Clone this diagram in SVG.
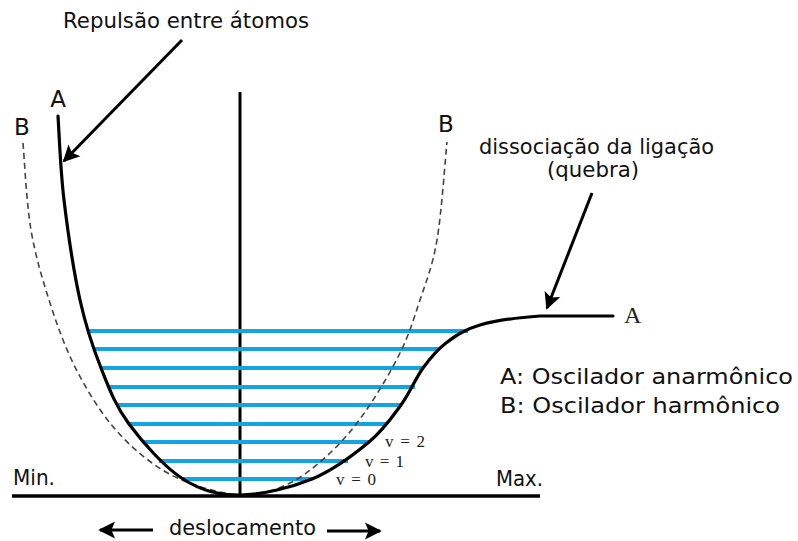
<svg xmlns="http://www.w3.org/2000/svg" width="798" height="541" viewBox="0 0 798 541">
<defs>
<marker id="ah" markerWidth="6" markerHeight="6" refX="5" refY="3" orient="auto" markerUnits="strokeWidth">
<path d="M0,0.2 L5.6,3 L0,5.8 L1.2,3 Z" fill="#000"/>
</marker>
<style>
.lbl{font-family:"DejaVu Sans",Verdana,sans-serif;font-size:21px;fill:#111}
.big{font-size:23px}
.ser{font-family:"Liberation Serif","Times New Roman",serif;fill:#222}
.blue{stroke:#14a3e3;stroke-width:4;fill:none}
.blk{stroke:#000;fill:none}
.arr{stroke:#000;stroke-width:3;fill:none;marker-end:url(#ah)}
</style>
</defs>
<rect width="798" height="541" fill="#fff"/>

<g id="axes">
<line class="blk" x1="12" y1="496" x2="540" y2="496" stroke-width="3.5"/>
<line class="blk" x1="240" y1="92" x2="240" y2="496" stroke-width="3"/>
</g>

<g id="levels">
<line class="blue" x1="88" y1="331" x2="468" y2="331"/>
<line class="blue" x1="93" y1="349" x2="439" y2="349"/>
<line class="blue" x1="101" y1="368" x2="423" y2="368"/>
<line class="blue" x1="109" y1="387" x2="415" y2="387"/>
<line class="blue" x1="118" y1="405" x2="401" y2="405"/>
<line class="blue" x1="129" y1="424" x2="387" y2="424"/>
<line class="blue" x1="143" y1="442" x2="369" y2="442"/>
<line class="blue" x1="159" y1="461" x2="348" y2="461"/>
<line class="blue" x1="183" y1="479" x2="312" y2="479"/>
</g>

<g id="harmonic">
<path d="M23,143 C24.3,157.5 26.5,203.3 31,230 C35.5,256.7 42.7,280.2 50,303 C57.3,325.8 65,347 75,367 C85,387 97.2,407 110,423 C122.8,439 137.8,452.7 152,463 C166.2,473.3 179.5,479.7 195,485 C210.5,490.3 229,495 245,495 C260.8,494.7 275.8,490 290,483 C304.2,476 317.5,464.8 330,453 C342.5,441.2 353.3,428.7 365,412 C376.7,395.3 390.8,371.7 400,353 C409.2,334.3 413.8,318.8 420,300 C426.2,281.2 432.5,266.3 437,240 C441.5,213.7 445.3,158.3 447,142" stroke="#444" stroke-width="1.6" fill="none" stroke-dasharray="6,4"/>
</g>

<g id="anharmonic">
<path class="blk" stroke-width="3.2" stroke-linecap="round" d="M58,116 C59,130 60.3,169.3 64,200 C67.7,230.7 73.8,272 80,300 C86.2,328 92.8,347.3 101,368 C109.2,388.7 115.3,405.5 129,424 C142.7,442.5 164.5,467.2 183,479 C201.5,490.8 218.5,495 240,495 C261.5,495 290.5,487.8 312,479 C333.5,470.2 354.2,454.3 369,442 C383.8,429.7 392,417.3 401,405 C410,392.7 415.5,378.3 423,368 C430.5,357.7 436.5,350.2 446,343 C455.5,335.8 464.3,329.5 480,325 C495.7,320.5 517.8,317.5 540,316 L613,316"/>
</g>

<g id="connectors">
<line class="arr" x1="182" y1="40" x2="64" y2="161"/>
<line class="arr" x1="592" y1="193" x2="547" y2="308"/>
<line class="arr" x1="153" y1="530" x2="100" y2="530"/>
<line class="arr" x1="327" y1="531" x2="380" y2="531"/>
</g>

<g id="labels">
<text class="lbl" x="63" y="28" textLength="246" lengthAdjust="spacingAndGlyphs">Repulsão entre átomos</text>
<text class="lbl big" x="58" y="107" text-anchor="middle">A</text>
<text class="lbl big" x="22" y="135" text-anchor="middle">B</text>
<text class="lbl big" x="446" y="132" text-anchor="middle">B</text>
<text class="lbl" x="596.5" y="154" text-anchor="middle" textLength="235" lengthAdjust="spacingAndGlyphs">dissociação da ligação</text>
<text class="lbl" x="593" y="177" text-anchor="middle" textLength="92" lengthAdjust="spacingAndGlyphs">(quebra)</text>
<text class="ser" x="624" y="323" font-size="24">A</text>
<text class="lbl" x="500" y="384" textLength="293" lengthAdjust="spacingAndGlyphs">A: Oscilador anarmônico</text>
<text class="lbl" x="500" y="413" textLength="280" lengthAdjust="spacingAndGlyphs">B: Oscilador harmônico</text>
<text class="lbl" x="13" y="485" textLength="42" lengthAdjust="spacingAndGlyphs">Min.</text>
<text class="lbl" x="496" y="486" textLength="47" lengthAdjust="spacingAndGlyphs">Max.</text>
<text class="lbl" x="242.5" y="535" text-anchor="middle" textLength="147" lengthAdjust="spacingAndGlyphs">deslocamento</text>
<text class="ser" x="385" y="447" font-size="17" xml:space="preserve" textLength="40" lengthAdjust="spacing">v = 2</text>
<text class="ser" x="365" y="467" font-size="17" xml:space="preserve" textLength="39" lengthAdjust="spacing">v = 1</text>
<text class="ser" x="336" y="485" font-size="17" xml:space="preserve" textLength="40" lengthAdjust="spacing">v = 0</text>
</g>
</svg>
